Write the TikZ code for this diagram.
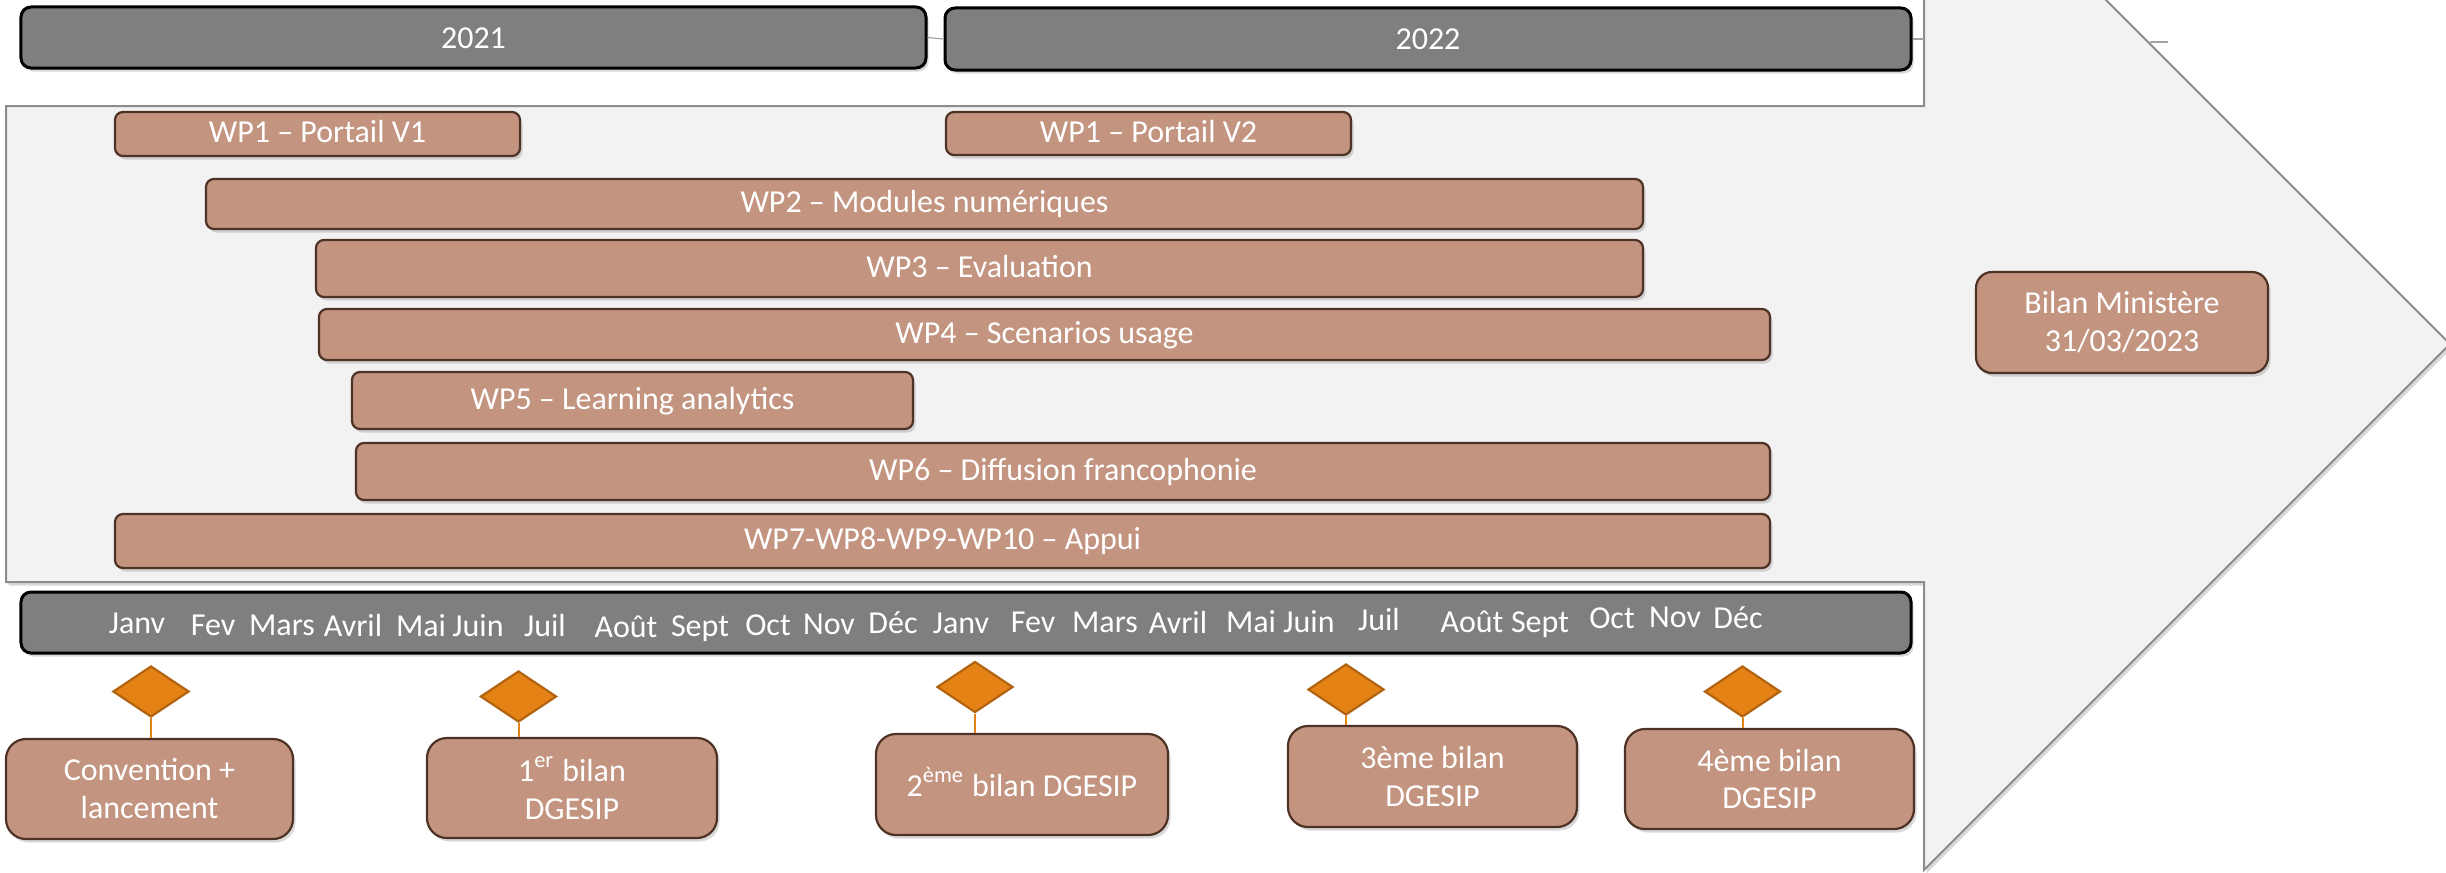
\documentclass[tikz,border=0pt]{standalone}
\usepackage{fontspec}
\setmainfont{Carlito}
\usetikzlibrary{math,shapes.geometric,shadows}

\definecolor{wpfill}{RGB}{195,149,128}
\definecolor{wpedge}{RGB}{78,50,38}
\definecolor{barfill}{RGB}{127,127,127}
\definecolor{bgfill}{RGB}{242,242,242}
\definecolor{bgedge}{RGB}{140,140,140}
\definecolor{milefill}{RGB}{228,130,22}
\definecolor{mileedge}{RGB}{178,99,16}

\tikzset{
  softshadow/.style={drop shadow={shadow xshift=0.25mm, shadow yshift=-0.35mm, opacity=0.3}},
  yearbar/.style={draw=black, line width=0.3mm, fill=barfill, rounded corners=1mm,
    text=white, inner sep=0pt, text height=2.6mm, text depth=0.4mm, softshadow},
  wpbar/.style={draw=wpedge, line width=0.22mm, fill=wpfill, rounded corners=0.8mm,
    text=white, inner sep=0pt, text height=2.4mm, text depth=0.7mm, softshadow},
  milebox/.style={draw=wpedge, line width=0.22mm, fill=wpfill, rounded corners=2mm,
    text=white, inner sep=0pt, align=center, softshadow},
  milestone/.style={diamond, draw=mileedge, line width=0.22mm, fill=milefill, inner sep=0pt},
  stem/.style={draw=milefill, line width=0.2mm},
  month/.style={anchor=base, text=white, inner sep=0pt},
  thinline/.style={draw=bgedge!80, line width=0.12mm},
}

\begin{document}
\begin{tikzpicture}[x=1mm, y=-1mm, font=\fontsize{9.1}{10.8}\selectfont]
  \tikzmath{\bw = 28.9; \bh = 10.0;}
  \tikzmath{\dw = 7.6; \dh = 5.1;}

  \useasboundingbox (0,0) rectangle (244.6,87.2);
  \clip (0,0) rectangle (244.6,87.2);

  % big arrow behind everything
  \draw[draw=bgedge, line width=0.2mm, fill=bgfill, softshadow]
    (0.6,10.6) -- (192.4,10.6) -- (192.4,-18.2) -- (245.0,34.4)
    -- (192.4,87.0) -- (192.4,58.2) -- (0.6,58.2) -- cycle;

  % years
  \node[yearbar, minimum width=90.5mm, minimum height=6.1mm] (y21) at (47.35,3.75) {2021};
  \node[yearbar, minimum width=96.6mm, minimum height=6.2mm] (y22) at (142.8,3.9) {2022};
  \draw[thinline] (y21.east) -- (y22.west);
  \coordinate (edge) at (192.4,4.2);
  \draw[thinline] (y22.east) -- (edge |- y22.east);
  \coordinate (tka) at (215.0,4.2);
  \coordinate (tkb) at (216.8,4.2);
  \draw[thinline] (tka) -- (tkb);

  % work packages
  \node[wpbar, minimum width=40.5mm, minimum height=4.4mm] (wp1a) at (31.75,13.4) {WP1 -- Portail V1};
  \node[wpbar, minimum width=40.5mm, minimum height=4.3mm] (wp1b) at (114.85,13.35) {WP1 -- Portail V2};
  \node[wpbar, minimum width=143.7mm, minimum height=5.0mm] (wp2) at (92.45,20.4) {WP2 -- Modules numériques};
  \node[wpbar, minimum width=132.7mm, minimum height=5.7mm] (wp3) at (97.95,26.85) {WP3 -- Evaluation};
  \node[wpbar, minimum width=145.1mm, minimum height=5.1mm] (wp4) at (104.45,33.45) {WP4 -- Scenarios usage};
  \node[wpbar, minimum width=56.1mm, minimum height=5.7mm] (wp5) at (63.25,40.05) {WP5 -- Learning analytics};
  \node[wpbar, minimum width=141.4mm, minimum height=5.7mm] (wp6) at (106.3,47.15) {WP6 -- Diffusion francophonie};
  \node[wpbar, minimum width=165.5mm, minimum height=5.4mm] (wp7) at (94.25,54.1) {WP7-WP8-WP9-WP10 -- Appui};

  % final report
  \node[milebox, rounded corners=1.6mm, minimum width=29.2mm, minimum height=10.1mm] (bilan) at (212.2,32.25) {Bilan Ministère\\31/03/2023};

  % months
  \node[yearbar, minimum width=189mm, minimum height=6.1mm] (months) at (96.6,62.25) {};
  \node[month] (m1) at (13.7,63.3) {Janv};
  \node[month] (m2) at (21.3,63.5) {Fev};
  \node[month] (m3) at (28.2,63.5) {Mars};
  \node[month] (m4) at (35.3,63.6) {Avril};
  \node[month] (m5) at (42.1,63.6) {Mai};
  \node[month] (m6) at (47.8,63.6) {Juin};
  \node[month] (m7) at (54.5,63.65) {Juil};
  \node[month] (m8) at (62.6,63.7) {Août};
  \node[month] (m9) at (70.0,63.65) {Sept};
  \node[month] (m10) at (76.8,63.5) {Oct};
  \node[month] (m11) at (82.9,63.4) {Nov};
  \node[month] (m12) at (89.3,63.3) {Déc};
  \node[month] (m13) at (96.1,63.3) {Janv};
  \node[month] (m14) at (103.3,63.2) {Fev};
  \node[month] (m15) at (110.5,63.2) {Mars};
  \node[month] (m16) at (117.8,63.3) {Avril};
  \node[month] (m17) at (125.1,63.2) {Mai};
  \node[month] (m18) at (130.9,63.2) {Juin};
  \node[month] (m19) at (137.9,63.0) {Juil};
  \node[month] (m20) at (147.2,63.2) {Août};
  \node[month] (m21) at (154.0,63.2) {Sept};
  \node[month] (m22) at (161.2,62.8) {Oct};
  \node[month] (m23) at (167.5,62.7) {Nov};
  \node[month] (m24) at (173.8,62.8) {Déc};

  % milestones
  \node[milestone, minimum width=\dw mm, minimum height=\dh mm] (d1) at (15.1,69.15) {};
  \node[milestone, minimum width=\dw mm, minimum height=\dh mm] (d2) at (51.85,69.65) {};
  \node[milestone, minimum width=\dw mm, minimum height=\dh mm] (d3) at (97.5,68.7) {};
  \node[milestone, minimum width=\dw mm, minimum height=\dh mm] (d4) at (134.6,68.95) {};
  \node[milestone, minimum width=\dw mm, minimum height=\dh mm] (d5) at (174.25,69.15) {};

  \node[milebox, minimum width=28.7mm, minimum height=\bh mm] (b1) at (14.95,78.9) {Convention +\\lancement};
  \node[milebox, minimum width=29.0mm, minimum height=\bh mm] (b2) at (57.2,78.8) {1\textsuperscript{er} bilan\\DGESIP};
  \node[milebox, minimum width=29.2mm, minimum height=10.1mm, text height=2.6mm, text depth=0.3mm] (b3) at (102.2,78.45) {2\textsuperscript{ème} bilan DGESIP};
  \node[milebox, minimum width=\bw mm, minimum height=10.1mm] (b4) at (143.25,77.65) {3ème bilan\\DGESIP};
  \node[milebox, minimum width=\bw mm, minimum height=\bh mm] (b5) at (176.95,77.9) {4ème bilan\\DGESIP};

  \draw[stem] (d1.south) -- (d1.south |- b1.north);
  \draw[stem] (d2.south) -- (d2.south |- b2.north);
  \draw[stem] (d3.south) -- (d3.south |- b3.north);
  \draw[stem] (d4.south) -- (d4.south |- b4.north);
  \draw[stem] (d5.south) -- (d5.south |- b5.north);

\end{tikzpicture}
\end{document}
